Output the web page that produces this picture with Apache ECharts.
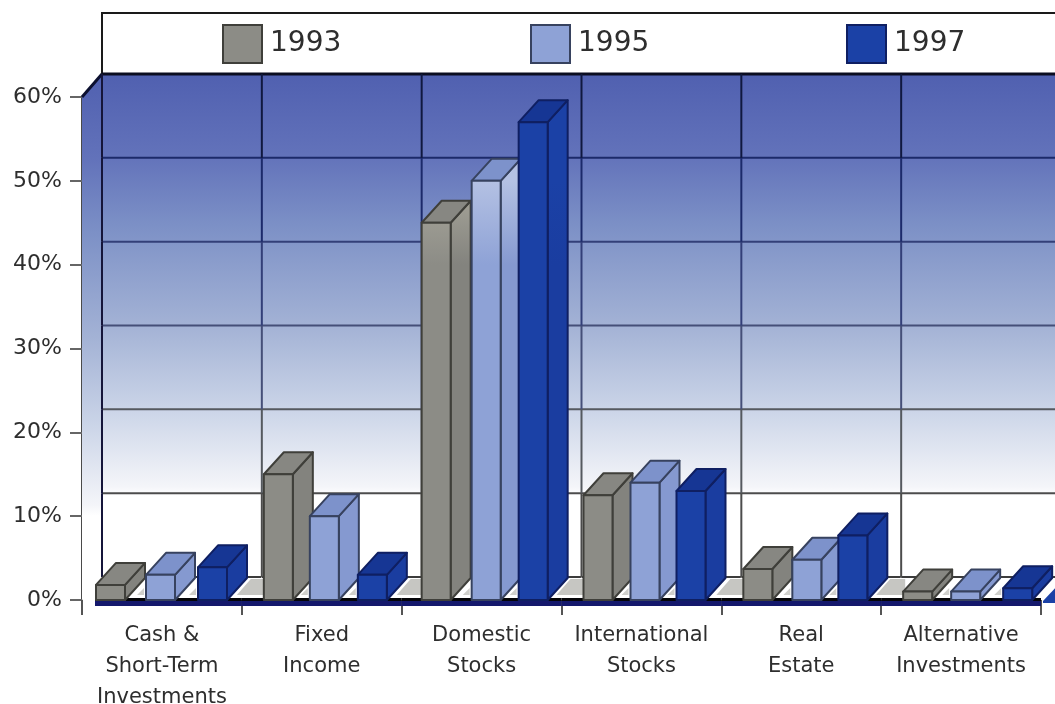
<!DOCTYPE html>
<html>
<head>
<meta charset="utf-8">
<title>Asset allocation 1993-1997</title>
<script src="https://cdn.jsdelivr.net/npm/echarts@6/dist/echarts.min.js"></script>
<style>html,body{margin:0;padding:0;background:#fff}#chart{width:1055px;height:704px}</style>
</head>
<body>
<div id="chart"></div>
<script>
// Allocation by asset class, in percent
const categories = ['Cash &\nShort-Term\nInvestments', 'Fixed\nIncome', 'Domestic\nStocks',
  'International\nStocks', 'Real\nEstate', 'Alternative\nInvestments'];
const years = ['1993', '1995', '1997'];
const values1993 = [1.8, 15, 45, 12.5, 3.7, 1];
const values1995 = [3, 10, 50, 14, 4.8, 1];
const values1997 = [3.9, 3, 57, 13, 7.7, 1.4];
const valueTicks = [10, 20, 30, 40, 50, 60];

// Look of the pseudo-3D scene
const FONT = '"DejaVu Sans", sans-serif';
const DEPTH_X = 20, WALL_DY = -23, BAR_DY = -22;
const BAR_W = 29, SLOT_LEFT = [21, 69, 117];
const slotNudge = [[-7, -5, -1], [1, -1, -1], [-1, 1, 0], [1, 0, -2], [1, 2, 0], [1, 1, 5]];
const gridShade = {60: '#10183f', 50: '#1c2a6a', 40: '#333f78', 30: '#454f78', 20: '#55595f', 10: '#4c4c4c'};
const skins = [
  {front: '#8c8c86', lit: '#aaa89c', side: '#83837e', top: '#878782', edge: '#3f3f3a'},
  {front: '#8ea2d6', lit: '#b4c1e3', side: '#8599d0', top: '#7d92cb', edge: '#37425f'},
  {front: '#1b41a6', lit: '#1b41a6', side: '#1a3da0', top: '#163694', edge: '#0f1f62'}
];

const G = echarts.graphic;

function poly(points, style, z2) {
  return {type: 'polygon', shape: {points}, style, z2: z2 || 0, silent: true};
}
function seg(x1, y1, x2, y2, stroke, lineWidth) {
  return {type: 'line', shape: {x1, y1, x2, y2}, style: {stroke, lineWidth}, silent: true};
}
function leftEdge(api, i) {
  return api.coord([i, 0])[0] - api.size([1, 0])[0] / 2;
}

// Back and side walls with their fading fill
function renderWalls(params, api) {
  const x0 = leftEdge(api, 0);
  const xEnd = leftEdge(api, categories.length) + DEPTH_X;
  const yTop = api.coord([0, 60])[1], yBase = api.coord([0, 0])[1];
  const stops = [
    {offset: 0, color: '#5060b0'}, {offset: 0.16, color: '#6272ba'}, {offset: 0.3, color: '#7c90c6'},
    {offset: 0.5, color: '#a3b2d5'}, {offset: 0.66, color: '#c9d3e7'}, {offset: 0.82, color: '#f4f5f9'},
    {offset: 0.84, color: '#ffffff'}, {offset: 1, color: '#ffffff'}
  ];
  const fill = new G.LinearGradient(0, 0, 0, 1, stops);
  return {type: 'group', children: [
    poly([[x0 + DEPTH_X, yTop + WALL_DY], [xEnd, yTop + WALL_DY], [xEnd, yBase + WALL_DY], [x0 + DEPTH_X, yBase + WALL_DY]], {fill}),
    poly([[x0, yTop], [x0 + DEPTH_X, yTop + WALL_DY], [x0 + DEPTH_X, yBase + WALL_DY], [x0, yBase]], {fill}),
    seg(x0, yTop, x0 + DEPTH_X, yTop + WALL_DY, '#0c1030', 3)
  ]};
}

// One horizontal wall line per tick, and the vertical lines broken into tick-sized runs
function renderGridLine(params, api) {
  const v = api.value(1);
  const y = api.coord([0, v])[1] + WALL_DY;
  const yBelow = api.coord([0, v - 10])[1] + WALL_DY;
  const xStart = leftEdge(api, 0) + DEPTH_X;
  const xEnd = leftEdge(api, categories.length) + DEPTH_X;
  const color = gridShade[v];
  const kids = [seg(xStart, y, xEnd, y, v === 60 ? '#0b0d20' : color, v === 60 ? 3 : 2)];
  for (let i = 0; i < categories.length; i++) {
    kids.push(seg(leftEdge(api, i) + DEPTH_X, y, leftEdge(api, i) + DEPTH_X, yBelow, i === 0 ? '#15153a' : color, 2));
  }
  return {type: 'group', children: kids};
}

// Floor plane: white slab, grey tiles between the groups, base strip underneath
function renderFloor(params, api) {
  const i = api.value(0);
  const x0 = leftEdge(api, i), x1 = x0 + api.size([1, 0])[0];
  const yBase = api.coord([0, 0])[1], yBack = yBase + WALL_DY;
  const kids = [
    poly([[x0, yBase], [x0 + DEPTH_X, yBack], [x1 + DEPTH_X, yBack], [x1, yBase]], {fill: '#ffffff'}),
    seg(x0 + DEPTH_X, yBack, x1 + DEPTH_X, yBack, '#3c3c3c', 2)
  ];
  if (i > 0) {
    kids.push(poly([[x0 - 5, yBase - 5], [x0 + 9, yBase - 21], [x0 + 24, yBase - 21], [x0 + 24, yBase - 5]], {fill: '#c6c6c2'}));
  }
  for (let s = 1; s < 3; s++) {
    const left = x0 + SLOT_LEFT[s] + slotNudge[i][s];
    kids.push(poly([[left - 9, yBase - 5], [left - 2, yBase - 12], [left - 2, yBase - 5]], {fill: '#cfcfcb'}));
  }
  // Base strip: black in the gaps, navy along the front
  const stripFrom = i === 0 ? x0 + 13 : x0;
  kids.push({type: 'rect', shape: {x: stripFrom, y: yBase - 2, width: x1 - stripFrom, height: 3}, style: {fill: '#050508'}, silent: true});
  kids.push({type: 'rect', shape: {x: stripFrom, y: yBase + 1, width: x1 - stripFrom, height: 5}, style: {fill: '#14186c'}, silent: true});
  if (i === categories.length - 1) {
    kids.push(poly([[x1 + 2, yBase + 1], [x1 + 17, yBase - 15], [x1 + 17, yBase + 3], [x1 + 2, yBase + 3]], {fill: '#1b41a6'}));
  }
  return {type: 'group', children: kids};
}

// Extruded column: front, side and top faces from the value scale
function barRenderer(s) {
  const skin = skins[s];
  return function (params, api) {
    const i = api.value(0), v = api.value(1);
    const left = leftEdge(api, i) + SLOT_LEFT[s] + slotNudge[i][s];
    const right = left + BAR_W;
    const yT = api.coord([i, v])[1], yB = api.coord([i, 0])[1];
    const litTop = api.coord([i, 50])[1], litEnd = api.coord([i, 40])[1];
    const frontFill = new G.LinearGradient(0, litTop, 0, litEnd, [
      {offset: 0, color: skin.lit}, {offset: 1, color: skin.front}
    ], true);
    const sideFill = new G.LinearGradient(0, litTop, 0, litEnd, [
      {offset: 0, color: skin.lit}, {offset: 1, color: skin.side}
    ], true);
    const line = {stroke: skin.edge, lineWidth: 2, lineJoin: 'round'};
    return {type: 'group', children: [
      poly([[right, yB], [right + DEPTH_X, yB + BAR_DY], [right + DEPTH_X, yT + BAR_DY], [right, yT]], Object.assign({fill: sideFill}, line)),
      poly([[left, yT], [right, yT], [right + DEPTH_X, yT + BAR_DY], [left + DEPTH_X, yT + BAR_DY]], Object.assign({fill: skin.top}, line)),
      poly([[left, yB], [right, yB], [right, yT], [left, yT]], Object.assign({fill: frontFill}, line))
    ]};
  };
}

const seriesValues = [values1993, values1995, values1997];
const chart = echarts.init(document.getElementById('chart'), null, {renderer: 'canvas'});
const legendSlots = [222, 530, 846];

const scene = [
  {type: 'custom', name: 'walls', renderItem: renderWalls, data: [[0, 0]], z: 1, silent: true},
  {type: 'custom', name: 'floor', renderItem: renderFloor, data: categories.map((c, i) => [i, 0]), z: 2, silent: true},
  {type: 'custom', name: 'gridlines', renderItem: renderGridLine, data: valueTicks.map(v => [0, v]), z: 3, silent: true}
];

chart.setOption({
  animation: false,
  backgroundColor: '#ffffff',
  grid: {left: 82, right: 14, top: 97, bottom: 104, containLabel: false, outerBoundsMode: 'none'},
  xAxis: {
    type: 'category',
    data: categories,
    axisLine: {show: false},
    axisTick: {show: true, length: 15, lineStyle: {color: '#555', width: 2}},
    axisLabel: {interval: 0, margin: 20, lineHeight: 31, fontFamily: FONT, fontSize: 21, color: '#2e2e2e'},
    splitLine: {show: false}
  },
  yAxis: {
    type: 'value', min: 0, max: 60, interval: 10,
    axisLine: {show: true, lineStyle: {color: '#4a4a4a', width: 2}},
    axisTick: {show: true, length: 12, lineStyle: {color: '#666', width: 2}},
    axisLabel: {formatter: '{value}%', margin: 20, fontFamily: FONT, fontSize: 22, color: '#2e2e2e'},
    splitLine: {show: false}
  },
  legend: years.map((y, s) => ({
    data: [{name: y, icon: 'rect'}], left: legendSlots[s], top: 24, padding: 0, itemWidth: 39, itemHeight: 38,
    selectedMode: false,
    itemStyle: {borderColor: skins[s].edge, borderWidth: 2},
    textStyle: {fontFamily: FONT, fontSize: 28, color: '#2e2e2e', padding: [0, 0, 0, 3]}
  })),
  graphic: [{
    type: 'rect', left: 101, top: 12, z: 0, silent: true,
    shape: {width: 1000, height: 63},
    style: {fill: '#ffffff', stroke: '#1a1a1a', lineWidth: 2}
  }],
  series: scene.concat(years.map((y, s) => ({
    type: 'custom', name: y, z: 5 + s,
    renderItem: barRenderer(s),
    encode: {x: 0, y: 1},
    itemStyle: {color: skins[s].front},
    data: seriesValues[s].map((v, i) => [i, v])
  })))
});
</script>
</body>
</html>
